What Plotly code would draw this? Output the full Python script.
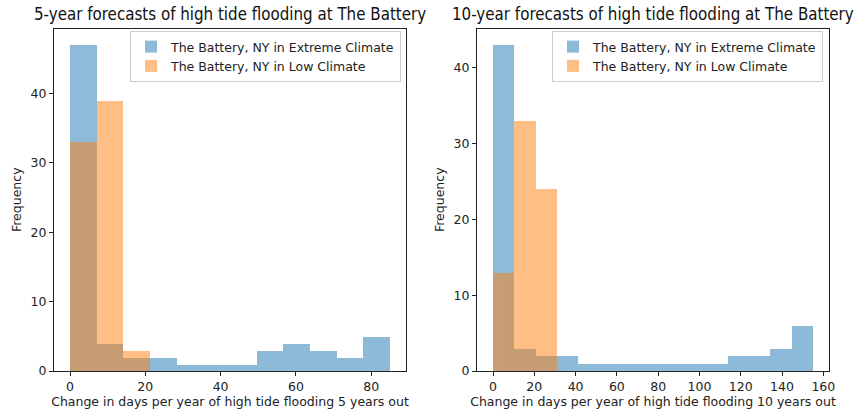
import numpy as np
import plotly.graph_objects as go

# ---- data ----
series_names = ["The Battery, NY in Extreme Climate", "The Battery, NY in Low Climate"]

# 5-year panel: 12 equal bins spanning 0..85
edges_5 = np.linspace(0, 85, 13)
extreme_5 = [47, 4, 2, 2, 1, 1, 1, 3, 4, 3, 2, 5]
low_edges_5 = edges_5[:4]
low_5 = [33, 39, 3]

# 10-year panel: 15 equal bins spanning 0..155
edges_10 = np.linspace(0, 155, 16)
extreme_10 = [43, 3, 2, 2, 1, 1, 1, 1, 1, 1, 1, 2, 2, 3, 6]
low_edges_10 = edges_10[:4]
low_10 = [13, 33, 24]

titles = ["5-year forecasts of high tide flooding at The Battery",
          "10-year forecasts of high tide flooding at The Battery"]
xlabels = ["Change in days per year of high tide flooding 5 years out",
           "Change in days per year of high tide flooding 10 years out"]

BLUE = "#1f77b4"
ORANGE = "#ff7f0e"
FONT = "DejaVu Sans"
TFONT = "DejaVu Sans Condensed, DejaVu Sans"
FS = 12.5

W, H = 854, 415

def bars(edges, counts, color, name, xa, ya, legend):
    edges = np.asarray(edges, dtype=float)
    centers = (edges[:-1] + edges[1:]) / 2
    widths = np.diff(edges)
    return go.Bar(x=centers, y=counts, width=widths, name=name,
                  marker=dict(color=color, line=dict(width=0)), opacity=0.5,
                  xaxis=xa, yaxis=ya, legend=legend, showlegend=True)

fig = go.Figure()
fig.add_trace(bars(edges_5, extreme_5, BLUE, series_names[0], "x", "y", "legend"))
fig.add_trace(bars(low_edges_5, low_5, ORANGE, series_names[1], "x", "y", "legend"))
fig.add_trace(bars(edges_10, extreme_10, BLUE, series_names[0], "x2", "y2", "legend2"))
fig.add_trace(bars(low_edges_10, low_10, ORANGE, series_names[1], "x2", "y2", "legend2"))

ybot = (H - 371) / H
ytop = (H - 28.5) / H

axis_common = dict(showline=True, linecolor="#222222", linewidth=1, mirror=True,
                   ticks="outside", ticklen=4, tickcolor="#222222", showgrid=False,
                   zeroline=False, automargin=False,
                   tickfont=dict(family=FONT, size=FS, color="#222222"))

x1max = max(edges_5); x2max = max(edges_10)
fig.update_layout(
    width=W, height=H, barmode="overlay", bargap=0,
    paper_bgcolor="white", plot_bgcolor="white",
    margin=dict(l=0, r=0, t=0, b=0),
    font=dict(family=FONT, size=FS, color="#222222"),
    xaxis=dict(domain=[54 / W, 406 / W], range=[-0.05 * x1max, 1.05 * x1max],
               tickvals=[0, 20, 40, 60, 80], anchor="y",
               title=dict(text=xlabels[0], font=dict(family=FONT, size=FS), standoff=4),
               **axis_common),
    yaxis=dict(domain=[ybot, ytop], range=[0, 1.05 * max(extreme_5)],
               tickvals=[0, 10, 20, 30, 40], anchor="x",
               title=dict(text="Frequency", font=dict(family=FONT, size=FS), standoff=6),
               **axis_common),
    xaxis2=dict(domain=[477 / W, 829 / W], range=[-0.05 * x2max, 1.05 * x2max],
                tickvals=list(range(0, 161, 20)), anchor="y2",
                title=dict(text=xlabels[1], font=dict(family=FONT, size=FS), standoff=4),
                **axis_common),
    yaxis2=dict(domain=[ybot, ytop], range=[0, 1.05 * max(extreme_10)],
                tickvals=[0, 10, 20, 30, 40], anchor="x2",
                title=dict(text="Frequency", font=dict(family=FONT, size=FS), standoff=6),
                **axis_common),
    legend=dict(x=130 / W, y=1 - 31 / H, xanchor="left", yanchor="top",
                bgcolor="rgba(255,255,255,0.8)", bordercolor="#cccccc", borderwidth=1,
                font=dict(family=FONT, size=FS), tracegroupgap=0),
    legend2=dict(x=552 / W, y=1 - 31 / H, xanchor="left", yanchor="top",
                 bgcolor="rgba(255,255,255,0.8)", bordercolor="#cccccc", borderwidth=1,
                 font=dict(family=FONT, size=FS), tracegroupgap=0),
    annotations=[
        dict(text=titles[0], x=(54 + 406) / 2 / W, y=1 - 13.5 / H, xref="paper", yref="paper",
             xanchor="center", yanchor="middle", showarrow=False,
             font=dict(family=TFONT, size=16.8, color="#111111")),
        dict(text=titles[1], x=(477 + 829) / 2 / W, y=1 - 13.5 / H, xref="paper", yref="paper",
             xanchor="center", yanchor="middle", showarrow=False,
             font=dict(family=TFONT, size=16.8, color="#111111")),
    ],
)

fig.write_html("out.html", config={"displayModeBar": False},
               post_script="document.body.style.margin='0';")
